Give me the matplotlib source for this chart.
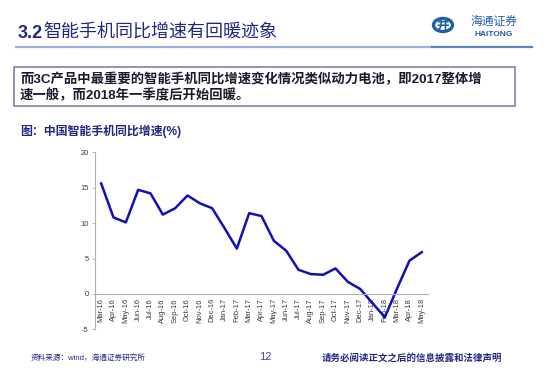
import matplotlib
matplotlib.use('Agg')
import matplotlib.pyplot as plt
from matplotlib.patches import Rectangle, Circle

plt.rcParams['font.family'] = ['Liberation Sans', 'Noto Sans CJK SC', 'DejaVu Sans']

months = ['Mar-16', 'Apr-16', 'May-16', 'Jun-16', 'Jul-16', 'Aug-16', 'Sep-16', 'Oct-16',
          'Nov-16', 'Dec-16', 'Jan-17', 'Feb-17', 'Mar-17', 'Apr-17', 'May-17', 'Jun-17',
          'Jul-17', 'Aug-17', 'Sep-17', 'Oct-17', 'Nov-17', 'Dec-17', 'Jan-18', 'Feb-18',
          'Mar-18', 'Apr-18', 'May-18']
growth = [15.6, 10.8, 10.1, 14.7, 14.2, 11.2, 12.1, 13.9, 12.8, 12.1, 9.3, 6.4,
          11.4, 11.0, 7.5, 6.1, 3.4, 2.8, 2.7, 3.6, 1.7, 0.7, -1.3, -3.3,
          0.8, 4.7, 5.9]
yticks = [-5, 0, 5, 10, 15, 20]

W, H = 550, 379
navy = '#23287f'


def fx(x):
    return x / W


def fy(y):
    return 1 - y / H


fig = plt.figure(figsize=(5.5, 3.79), dpi=100)
fig.patch.set_facecolor('white')

# header
fig.text(fx(18), fy(33), '3.2', fontsize=13, fontweight='bold', color=navy,
         va='center', ha='left')
fig.text(fx(43), fy(33), '智能手机同比增速有回暖迹象', fontsize=13, color=navy,
         va='center', ha='left', family=['Noto Sans CJK SC'])
fig.add_artist(plt.Line2D([fx(16), fx(432)], [fy(46.7), fy(46.7)], color='#9db4d8', lw=1.6))
fig.add_artist(plt.Line2D([fx(432), fx(532)], [fy(46.7), fy(46.7)], color='#5b84c0', lw=1.6))

# logo
fig.add_artist(Circle((fx(443), fy(25)), 9.5 / W, transform=fig.transFigure,
                      fill=False, ec='#1f5fa8', lw=2.4))
fig.text(fx(443), fy(25), '井', fontsize=9, color='#1f5fa8', ha='center', va='center',
         fontweight='bold', family=['Noto Sans CJK SC'])
fig.text(fx(494), fy(21), '海通证券', fontsize=8.5, color='#1f5fa8', ha='center', va='center',
         style='italic', family=['Noto Sans CJK SC'])
fig.text(fx(494), fy(35), 'HAITONG', fontsize=6, color='#1f5fa8', ha='center', va='center',
         fontweight='bold')

# text box
fig.add_artist(Rectangle((fx(14), fy(106)), fx(501), 39.3 / H, transform=fig.transFigure,
                         fill=False, ec='#8080a8', lw=1.2))
fig.text(fx(20), fy(79), '而3C产品中最重要的智能手机同比增速变化情况类似动力电池，即2017整体增',
         fontsize=9.6, fontweight='bold', color='#1a1a2e', va='center', ha='left')
fig.text(fx(20), fy(95.5), '速一般，而2018年一季度后开始回暖。',
         fontsize=9.6, fontweight='bold', color='#1a1a2e', va='center', ha='left')

fig.text(fx(20), fy(131.5), '图：中国智能手机同比增速(%)', fontsize=8.6, fontweight='bold',
         color=navy, va='center', ha='left')

# chart
ax = fig.add_axes([fx(95), fy(329.3), fx(428 - 95), (329.3 - 152.3) / H])
x = list(range(len(months)))
ax.plot(x, growth, color='#1010b8', lw=1.8)
ax.set_xlim(-0.5, len(months) - 0.5)
ax.set_ylim(-5, 20)
ax.set_yticks(yticks)
ax.set_yticklabels([str(v) for v in yticks])
ax.set_xticks(x)
ax.set_xticklabels(months)
ax.spines['top'].set_visible(False)
ax.spines['right'].set_visible(False)
ax.spines['bottom'].set_position(('data', 0))
for s in ('left', 'bottom'):
    ax.spines[s].set_color('#b0b0b0')
    ax.spines[s].set_linewidth(0.8)
ax.tick_params(axis='both', labelsize=5.4, colors='#b0b0b0', labelcolor='#3a3a3a',
               length=2.5, width=0.6, pad=2)
ax.tick_params(axis='x', length=0, pad=3, labelrotation=90)
ax.set_facecolor('none')

# footer
fig.text(fx(31), fy(358), '资料来源：wind，海通证券研究所', fontsize=5.5, color=navy,
         va='center', ha='left')
fig.text(fx(265), fy(357), '12', fontsize=8, color='#5a3a9a', va='center', ha='center')
fig.text(fx(502), fy(358), '请务必阅读正文之后的信息披露和法律声明', fontsize=6.8,
         fontweight='bold', color=navy, va='center', ha='right')

fig.savefig('out.png', dpi=100)
